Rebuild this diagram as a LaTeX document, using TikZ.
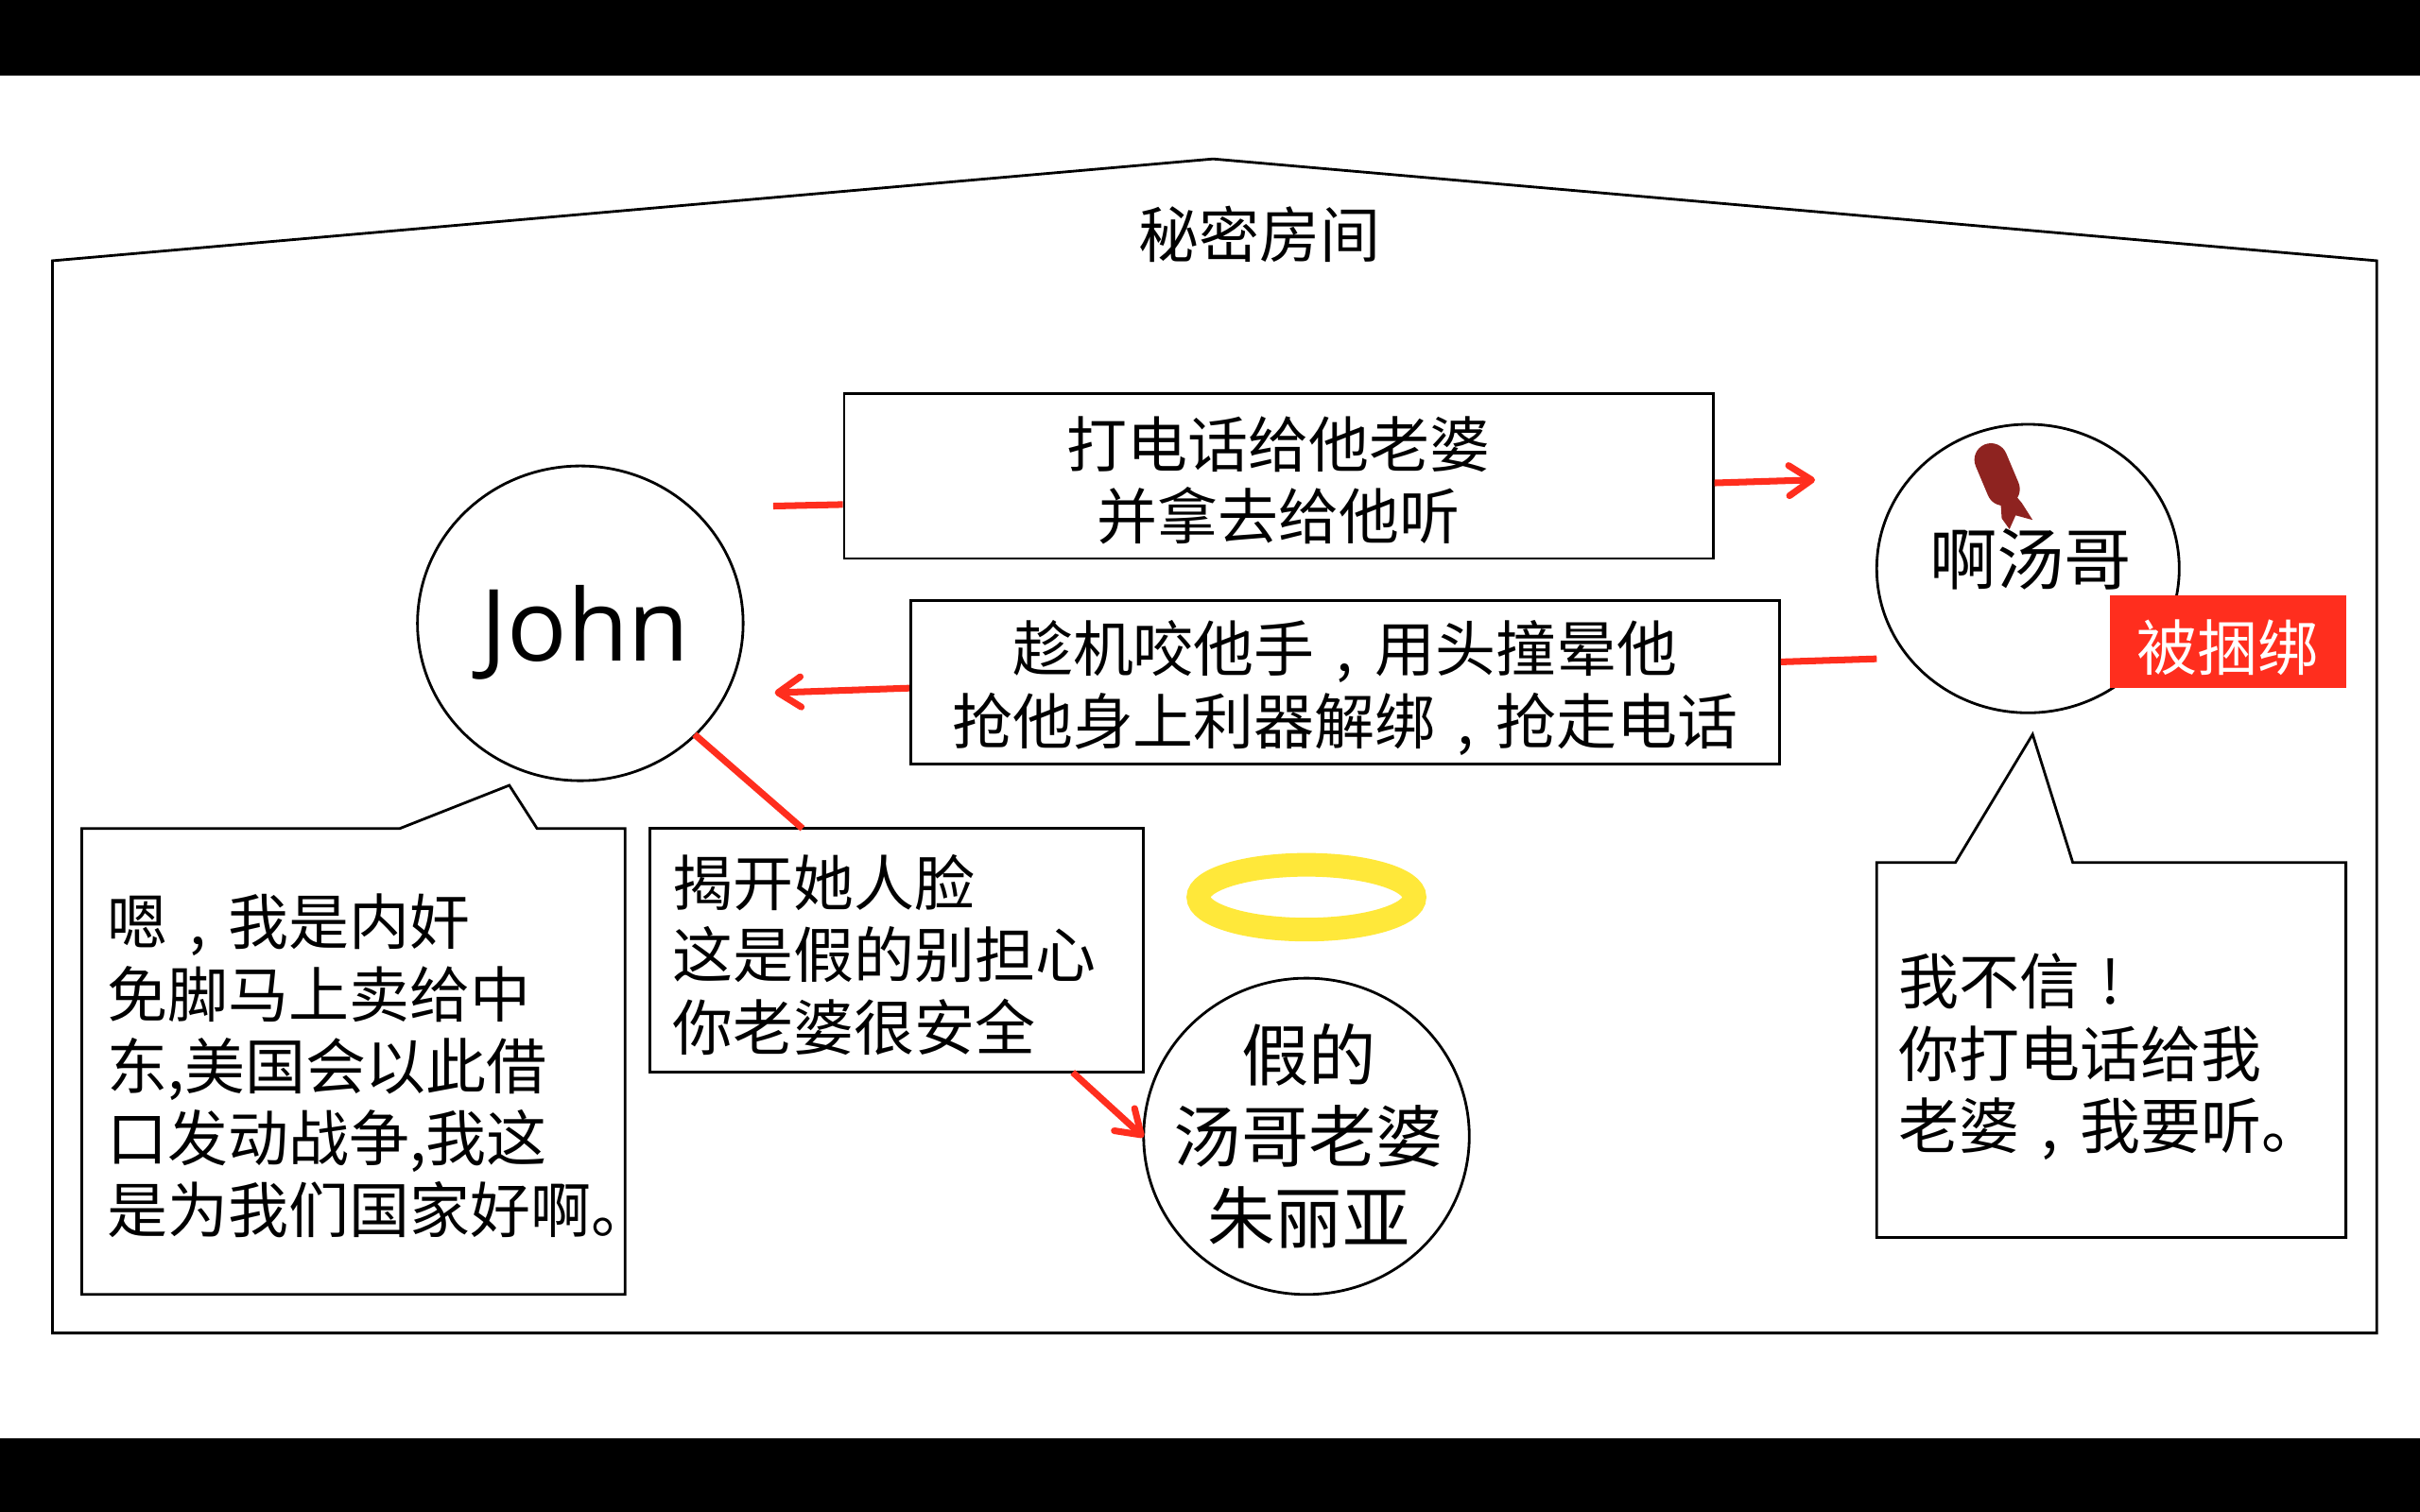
\documentclass[tikz,border=0pt]{standalone}
\usepackage{fontspec}
\usetikzlibrary{shapes.geometric,arrows.meta,calc}
\setmainfont{Noto Sans CJK SC}
\newfontfamily\latinfont{Open Sans}
\definecolor{linkred}{HTML}{FF2E1E}
\definecolor{bombred}{HTML}{8E2320}
\definecolor{halo}{HTML}{FFE83A}
\newcommand{\bodytext}{\fontsize{18.2pt}{21.7pt}\selectfont}
\newcommand{\bigtext}{\fontsize{20.3pt}{24.4pt}\selectfont}
\newcommand{\cma}{\makebox[1em]{,}}
\newcommand{\xcl}{\makebox[1em]{!}}
\newcommand{\tp}{\rule{0pt}{19pt}}
\newcommand{\tq}{\rule{0pt}{18pt}}
\tikzset{
  x=0.16327mm,y=-0.16327mm,
  outline/.style={draw=black,line width=0.8pt},
  msgbox/.style={outline,rectangle,inner sep=0pt,align=center,font=\bodytext},
  leftbox/.style={outline,rectangle,inner xsep=2.45mm,inner ysep=0pt,align=left,font=\bodytext},
  person/.style={outline,ellipse,inner sep=0pt,align=center},
  plain/.style={inner sep=0pt,align=left,font=\bodytext},
  link/.style={draw=linkred,line width=2pt},
  linkarrow/.style={link,-{Straight Barb[length=2.4mm,width=3.2mm,round,line width=2pt]}},
}
\begin{document}
\begin{tikzpicture}
\useasboundingbox (0,0) rectangle (1568,980);
\fill[white] (0,0) rectangle (1568,980);
\fill[black] (0,0) rectangle (1568,49);
\fill[black] (0,932) rectangle (1568,980);
% house
\draw[outline] (34,169) -- (786,103) -- (1540,169) -- (1540,864) -- (34,864) -- cycle;
\node[font=\bodytext,inner sep=0pt] (title) at (816,152) {秘密房间};
% bomb
\draw[bombred,line width=3.5mm,line cap=round] (1290,298) -- (1298,317);
\fill[bombred] (1296,322) -- (1297,336) -- (1302,343) -- (1306,334) -- (1317,337) -- (1310,326) -- (1305,320) -- cycle;
% people
\node[person,minimum width=211*0.16327mm,minimum height=204*0.16327mm,font=\latinfont\fontsize{30pt}{32pt}\selectfont] (john) at (376,404) {\hspace{1mm}\rule{0pt}{28.4pt}John};
\node[person,minimum width=196*0.16327mm,minimum height=187*0.16327mm,font=\bigtext] (tang) at (1314,368.5) {\hspace{0.6mm}\raisebox{2.6mm}{啊汤哥}};
\node[person,inner sep=-3mm,minimum width=211*0.16327mm,minimum height=205*0.16327mm,font=\bigtext] (wife) at (846.5,736.5) {\hspace{0.5mm}假的\\\hspace{0.5mm}汤哥老婆\\\hspace{0.5mm}朱丽亚};
\node[fill=linkred,text=white,inner sep=0pt,minimum width=153*0.16327mm,minimum height=60*0.16327mm,font=\bodytext] (bound) at (1443.5,416) {\tp 被捆绑};
% halo
\draw[halo,line width=2.5mm] (846.5,581.5) ellipse [x radius=70,y radius=21];
% message boxes
\node[msgbox,minimum width=563*0.16327mm,minimum height=107*0.16327mm] (call) at (828.5,308.5) {\tq 打电话给他老婆\\并拿去给他听};
\node[msgbox,minimum width=563*0.16327mm,minimum height=106*0.16327mm] (bite) at (871.5,442) {\tp 趁机咬他手\cma 用头撞晕他\\抢他身上利器解绑\cma 抢走电话};
\node[leftbox,minimum height=158*0.16327mm,text width=290*0.16327mm] (reveal) at (581,616) {\tq 揭开她人脸\\这是假的别担心\\你老婆很安全};
% connectors
\coordinate (callstart) at (501,328);
\coordinate (callend) at (1176,311);
\coordinate (bitestart) at (1216,427);
\coordinate (biteend) at (502,449);
\coordinate (johnfoot) at (450,476);
\coordinate (revealin) at (520,537);
\coordinate (revealout) at (695,695);
\coordinate (wifein) at (741,737);
\path[link] (callstart) -- (call.west |- 0,327);
\path[linkarrow] (call.east |- 0,313) -- (callend);
\path[link] (bitestart) -- (bite.east |- 0,429);
\path[linkarrow] (bite.west |- 0,446) -- (biteend);
\path[link] (johnfoot) -- (revealin);
\path[linkarrow] (revealout) -- (wifein);
% callouts
\draw[outline] (53,537) -- (259,537) -- (330,509) -- (348,537) -- (405,537) -- (405,839) -- (53,839) -- cycle;
\node[plain,anchor=west] (spy) at (69,691) {嗯\cma 我是内奸\\免脚马上卖给中\\东,美国会以此借\\口发动战争,我这\\是为我们国家好啊。};
\draw[outline] (1216,559) -- (1267,559) -- (1317,476) -- (1343,559) -- (1520,559) -- (1520,802) -- (1216,802) -- cycle;
\node[plain,anchor=west] (doubt) at (1230,685) {我不信\xcl\\你打电话给我\\老婆\cma 我要听。};
\end{tikzpicture}
\end{document}
